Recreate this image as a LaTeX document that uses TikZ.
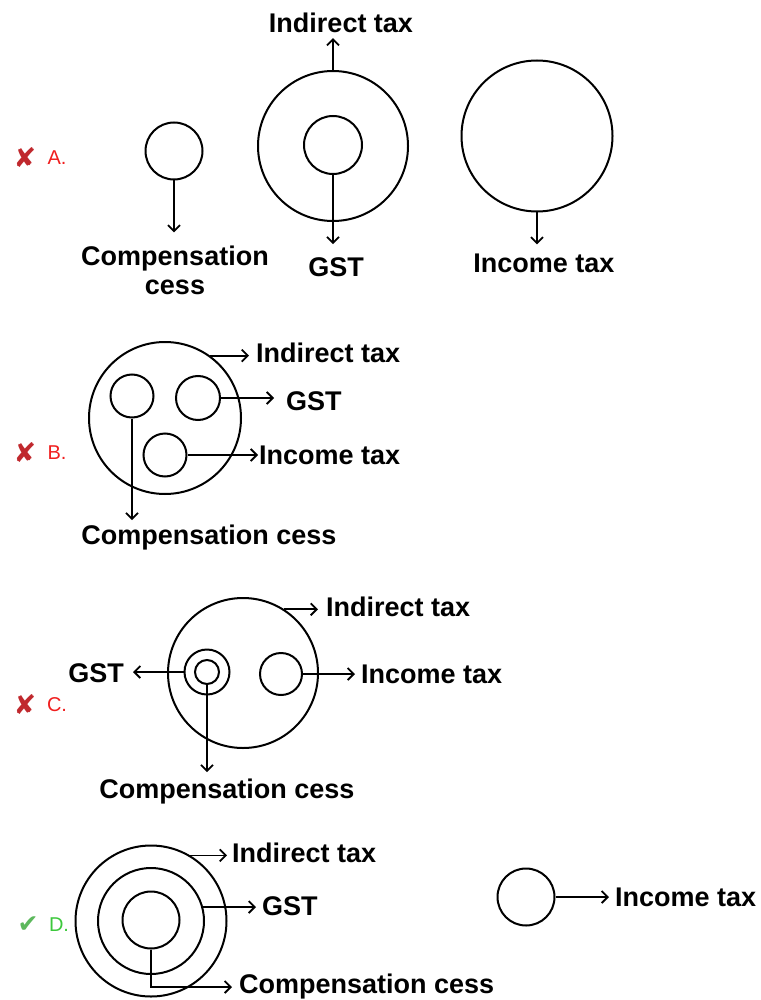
\documentclass[tikz,border=0pt]{standalone}
\usepackage{fontspec}
\setmainfont{Liberation Sans}
\newfontfamily\symfont{DejaVu Sans}
\usetikzlibrary{arrows.meta}
\definecolor{wrongred}{HTML}{C0282D}
\definecolor{keyred}{HTML}{F01E1E}
\definecolor{rightgreen}{HTML}{5CB85C}
\definecolor{keygreen}{HTML}{3CC83C}
\tikzset{ring/.style={circle,draw,line width=2pt,inner sep=0pt,minimum size=#1},
  tag/.style={font=\bfseries\fontsize{27}{29}\selectfont,inner sep=0pt},
  key/.style={font=\fontsize{20}{24}\selectfont,inner sep=0pt},
  cross/.style={font=\symfont\fontsize{27}{27}\selectfont,text=wrongred,inner sep=0pt},
  tick/.style={font=\symfont\fontsize{25}{25}\selectfont,text=rightgreen,inner sep=0pt},
  arrow/.style={-{Straight Barb[length=6pt,width=12pt]},line width=1.8pt}}

\begin{document}
\begin{tikzpicture}[x=1pt,y=-1pt]
  \path[use as bounding box] (0,0) rectangle (760,1000);
  % A
  \node[cross] (aMark) at (25,158) {✘};
  \node[key,text=keyred] (aKey) at (57,158) {A.};
  \node[ring=57] (aCess) at (174,151) {};
  \node[ring=150] (aOut) at (333,146) {};
  \node[ring=58] (aIn) at (333,145) {};
  \node[ring=151] (aInc) at (537,136) {};
  \node[tag] (aIndLbl) at (341,23) {Indirect tax};
  \node[tag,align=center] (aCessLbl) at (175,270) {Compensation\\cess};
  \node[tag] (aGstLbl) at (336,267) {GST};
  \node[tag] (aIncLbl) at (544,263) {Income tax};
  \draw[arrow,shorten >=5pt] (aOut.north) -- (aOut.north |- aIndLbl.south);
  \draw[arrow,shorten >=13pt] (aCess.south) -- (aCess.south |- aCessLbl.north);
  \draw[arrow,shorten >=13pt] (aIn.south) -- (aIn.south |- aGstLbl.north);
  \draw[arrow,shorten >=9pt] (aInc.south) -- (aInc.south |- aIncLbl.north);
  % B
  \node[cross] (bMark) at (25,453) {✘};
  \node[key,text=keyred] (bKey) at (57,453) {B.};
  \node[ring=152] (bOut) at (165,418) {};
  \node[ring=43] (bCess) at (132,396) {};
  \node[ring=44] (bGst) at (198,398) {};
  \node[ring=43] (bInc) at (165,455) {};
  \node[tag,anchor=west] (bIndLbl) at (256,353) {Indirect tax};
  \node[tag,anchor=west] (bGstLbl) at (286,401) {GST};
  \node[tag,anchor=west] (bIncLbl) at (259,455) {Income tax};
  \node[tag] (bCessLbl) at (209,538) {Compensation cess};
  \draw[arrow,shorten >=7pt] (bOut.54) -- (bOut.54 -| bIndLbl.west);
  \draw[arrow,shorten >=12pt] (bGst.east) -- (bGst.east -| bGstLbl.west);
  \draw[arrow,shorten >=1pt] (bInc.east) -- (bInc.east -| bIncLbl.west);
  \draw[arrow,shorten >=5pt] (bCess.south) -- (bCess.south |- bCessLbl.north);
  % C
  \node[cross] (cMark) at (25,705) {✘};
  \node[key,text=keyred] (cKey) at (57,705) {C.};
  \node[ring=150] (cOut) at (243,673) {};
  \node[ring=45] (cOutS) at (207,672) {};
  \node[ring=24] (cInS) at (207,672) {};
  \node[ring=42] (cInc) at (281,674) {};
  \node[tag,anchor=west] (cIndLbl) at (326,607) {Indirect tax};
  \node[tag,anchor=east] (cGstLbl) at (124,673) {GST};
  \node[tag,anchor=west] (cIncLbl) at (361,674) {Income tax};
  \node[tag] (cCessLbl) at (227,792) {Compensation cess};
  \draw[arrow,shorten >=8pt] (cOut.57) -- (cOut.57 -| cIndLbl.west);
  \draw[arrow,shorten >=9pt] (cOutS.west) -- (cOutS.west -| cGstLbl.east);
  \draw[arrow,shorten >=6pt] (cInc.east) -- (cInc.east -| cIncLbl.west);
  \draw[arrow,shorten >=7pt] (cInS.south) -- (cInS.south |- cCessLbl.north);
  % D
  \node[tick] (dMark) at (28,925) {✔};
  \node[key,text=keygreen] (dKey) at (59,925) {D.};
  \node[ring=151] (dOut) at (151,921) {};
  \node[ring=106] (dMid) at (151,921) {};
  \node[ring=57] (dIn) at (151,920) {};
  \node[ring=57] (dInc) at (526,897) {};
  \node[tag,anchor=west] (dIndLbl) at (232,853) {Indirect tax};
  \node[tag,anchor=west] (dGstLbl) at (262,906) {GST};
  \node[tag,anchor=west] (dCessLbl) at (239,987) {Compensation cess};
  \node[tag,anchor=west] (dIncLbl) at (615,897) {Income tax};
  \draw[arrow,shorten >=5pt] (dOut.59) -- (dOut.59 -| dIndLbl.west);
  \draw[arrow,shorten >=6pt] (dMid.15) -- (dMid.15 -| dGstLbl.west);
  \draw[arrow,shorten >=7pt] (dIn.south) |- (dCessLbl.west);
  \draw[arrow,shorten >=6pt] (dInc.east) -- (dInc.east -| dIncLbl.west);
\end{tikzpicture}
\end{document}
